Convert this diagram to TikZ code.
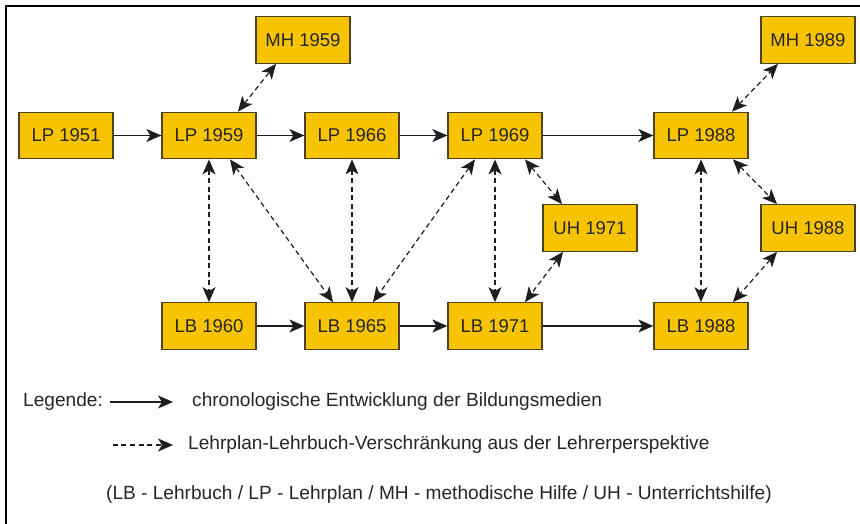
\documentclass[tikz,border=0pt]{standalone}
\usepackage{fontspec}
\setmainfont{Liberation Sans}
\usepackage{xcolor}
\usepackage{tikz}
\usetikzlibrary{calc,positioning,arrows.meta}
\definecolor{mdfill}{HTML}{F8C300}
\definecolor{mdedge}{HTML}{4D4324}
\definecolor{mdline}{HTML}{1E1E1E}

\begin{document}
\begin{tikzpicture}[node distance=47.7pt and 47.7pt,
  mb/.style={draw=mdedge,line width=1.3pt,fill=mdfill,inner sep=2pt,
  minimum width=94pt,minimum height=46.5pt,font=\fontsize{18.5}{21}\selectfont,text=black!85},
  chron/.style={-{Stealth[length=15pt,width=13pt,inset=4pt]},mdline,line width=1.2pt},
  link/.style={{Stealth[length=15pt,width=13pt,inset=4pt]}-{Stealth[length=15pt,width=13pt,inset=4pt]},mdline,line width=1.2pt,dash pattern=on 5pt off 3.5pt},
  lg/.style={font=\fontsize{19.1}{22}\selectfont,text=black!85,inner sep=0pt,anchor=west}]
\useasboundingbox (-66pt,135.5pt) rectangle (794pt,-388.5pt);
\draw[line width=2pt,black] (-60pt,-388.5pt) -- (-60pt,129.5pt) -- (794pt,129.5pt);
\node[mb] (lp51) at (0,0) {LP 1951};\node[mb,right=of lp51] (lp59) {LP 1959};\node[mb,right=of lp59] (lp66) {LP 1966};\node[mb,right=of lp66] (lp69) {LP 1969};\node[mb,right=110.7pt of lp69] (lp88) {LP 1988};
\node[mb,above right=47.7pt and -1.3pt of lp59.north east] (mh59) {MH 1959};\node[mb,above right=47.7pt and 11.7pt of lp88.north east] (mh89) {MH 1989};
\node[mb,below right=44.7pt and -0.3pt of lp69.south east] (uh71) {UH 1971};\node[mb,below right=44.7pt and 11.7pt of lp88.south east] (uh88) {UH 1988};
\node[mb,below=142.7pt of lp59] (lb60) {LB 1960};\node[mb,below=142.7pt of lp66] (lb65) {LB 1965};\node[mb,below=142.7pt of lp69] (lb71) {LB 1971};\node[mb,below=142.7pt of lp88] (lb88) {LB 1988};
\draw[chron] (lp51) -- (lp59);\draw[chron] (lp59) -- (lp66);\draw[chron] (lp66) -- (lp69);\draw[chron] (lp69) -- (lp88);
\draw[chron] (lb60) -- (lb65);\draw[chron] (lb65) -- (lb71);\draw[chron] (lb71) -- (lb88);
\draw[link] ([xshift=29pt]lp59.north) -- ([xshift=-27pt]mh59.south);\draw[link] (lp59) -- (lb60);\draw[link] ([xshift=21pt]lp59.south) -- ([xshift=-19pt]lb65.north);
\draw[link] (lp66) -- (lb65);\draw[link] ([xshift=-20pt]lp69.south) -- ([xshift=21pt]lb65.north);\draw[link] (lp69) -- (lb71);
\draw[link] ([xshift=30pt]lp69.south) -- ([xshift=-28pt]uh71.north);\draw[link] ([xshift=-27pt]uh71.south) -- ([xshift=30pt]lb71.north);
\draw[link] ([xshift=31pt]lp88.north) -- ([xshift=-30pt]mh89.south);\draw[link] (lp88) -- (lb88);
\draw[link] ([xshift=32pt]lp88.south) -- ([xshift=-31pt]uh88.north);\draw[link] ([xshift=-31pt]uh88.south) -- ([xshift=32pt]lb88.north);
% legend
\node[lg] (leg) at (-43pt,-266.5pt) {Legende:};
\coordinate (ls1) at (44pt,-266.5pt);\coordinate[right=63pt of ls1] (le1);
\node[lg,right=19pt of le1] (lt1) {chronologische Entwicklung der Bildungsmedien};
\coordinate (ls2) at (47pt,-309.5pt);\coordinate[right=60pt of ls2] (le2);
\node[lg,right=15pt of le2] (lt2) {Lehrplan-Lehrbuch-Verschränkung aus der Lehrerperspektive};
\node[lg] (lt3) at (40pt,-359.5pt) {(LB - Lehrbuch / LP - Lehrplan / MH - methodische Hilfe / UH - Unterrichtshilfe)};
\draw[chron] (ls1) -- (le1);\draw[chron,dash pattern=on 5pt off 3.5pt] (ls2) -- (le2);
\end{tikzpicture}
\end{document}
